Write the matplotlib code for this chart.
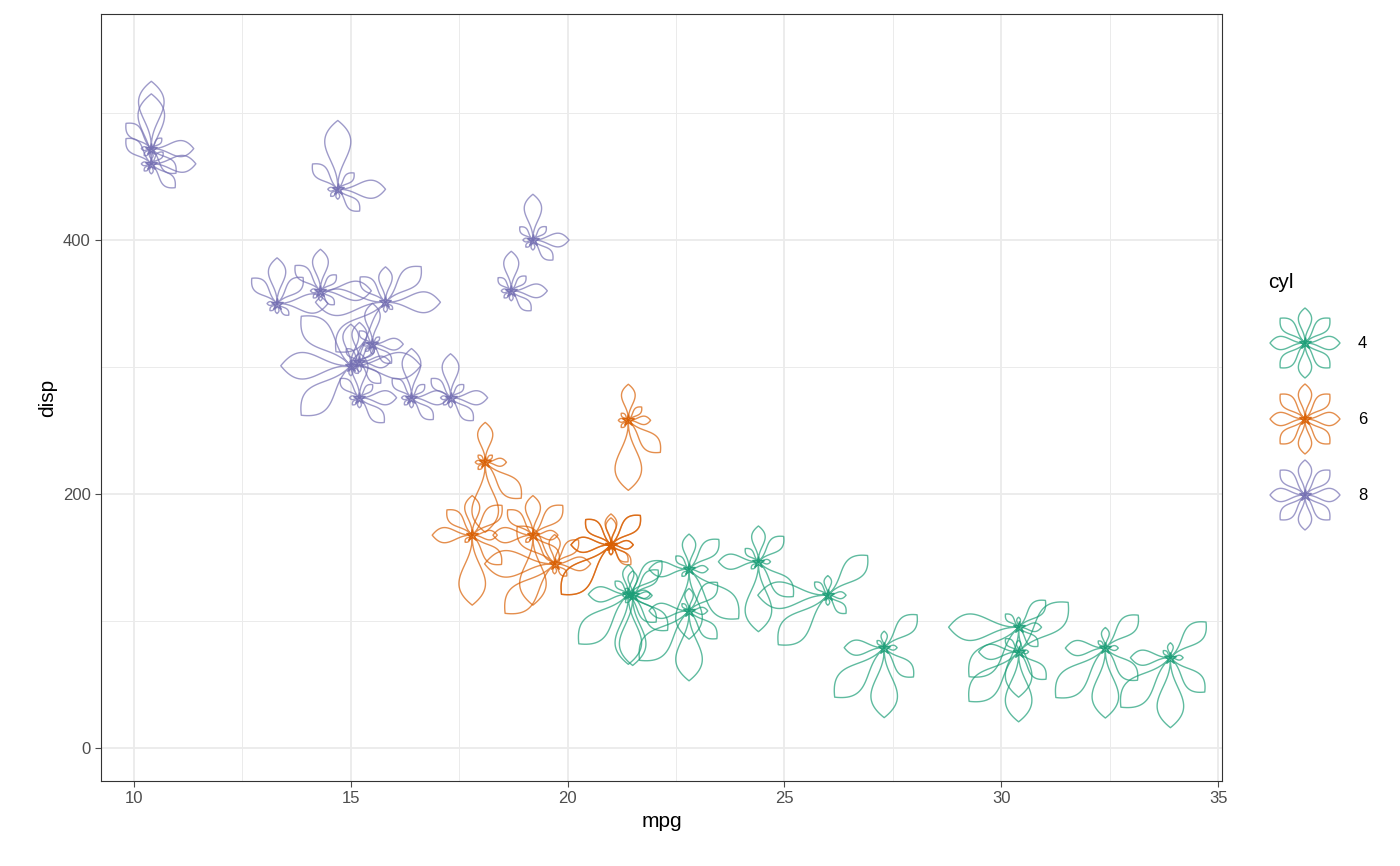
import numpy as np
import matplotlib.pyplot as plt

plt.rcParams["font.family"] = ["Liberation Sans", "DejaVu Sans"]

mpg = [21, 21, 22.8, 21.4, 18.7, 18.1, 14.3, 24.4, 22.8, 19.2, 17.8, 16.4, 17.3, 15.2, 10.4, 10.4,
       14.7, 32.4, 30.4, 33.9, 21.5, 15.5, 15.2, 13.3, 19.2, 27.3, 26, 30.4, 15.8, 19.7, 15, 21.4]
cyl = [6, 6, 4, 6, 8, 6, 8, 4, 4, 6, 6, 8, 8, 8, 8, 8, 8, 4, 4, 4, 4, 8, 8, 8, 8, 4, 4, 4, 8, 6, 8, 4]
disp = [160, 160, 108, 258, 360, 225, 360, 146.7, 140.8, 167.6, 167.6, 275.8, 275.8, 275.8, 472, 460,
        440, 78.7, 75.7, 71.1, 120.1, 318, 304, 350, 400, 79, 120.3, 95.1, 351, 145, 301, 121]
hp = [110, 110, 93, 110, 175, 105, 245, 62, 95, 123, 123, 180, 180, 180, 205, 215, 230, 66, 52, 65,
      97, 150, 150, 245, 175, 66, 91, 113, 264, 175, 335, 109]
drat = [3.9, 3.9, 3.85, 3.08, 3.15, 2.76, 3.21, 3.69, 3.92, 3.92, 3.92, 3.07, 3.07, 3.07, 2.93, 3.0,
        3.23, 4.08, 4.93, 4.22, 3.7, 2.76, 3.15, 3.73, 3.08, 4.08, 4.43, 3.77, 4.22, 3.62, 3.54, 4.11]
wt = [2.62, 2.875, 2.32, 3.215, 3.44, 3.46, 3.57, 3.19, 3.15, 3.44, 3.44, 4.07, 3.73, 3.78, 5.25, 5.424,
      5.345, 2.2, 1.615, 1.835, 2.465, 3.52, 3.435, 3.84, 3.845, 1.935, 2.14, 1.513, 3.17, 2.77, 3.57, 2.78]
qsec = [16.46, 17.02, 18.61, 19.44, 17.02, 20.22, 15.84, 20.0, 22.9, 18.3, 18.9, 17.4, 17.6, 18.0, 17.98,
        17.82, 17.42, 19.47, 18.52, 19.9, 20.01, 16.87, 17.3, 15.41, 17.05, 18.9, 16.7, 16.9, 14.5, 15.5, 14.6, 18.6]
vs = [0, 0, 1, 1, 0, 1, 0, 1, 1, 1, 1, 0, 0, 0, 0, 0, 0, 1, 1, 1, 1, 0, 0, 0, 0, 1, 0, 1, 0, 0, 0, 1]
am = [1, 1, 1, 0, 0, 0, 0, 0, 0, 0, 0, 0, 0, 0, 0, 0, 0, 1, 1, 1, 0, 0, 0, 0, 0, 1, 1, 1, 1, 1, 1, 1]
gear = [4, 4, 4, 3, 3, 3, 3, 4, 4, 4, 4, 3, 3, 3, 3, 3, 3, 4, 4, 4, 3, 3, 3, 3, 3, 4, 5, 5, 5, 5, 5, 4]
carb = [4, 4, 1, 1, 2, 1, 4, 2, 2, 4, 4, 3, 3, 3, 4, 4, 4, 1, 2, 1, 1, 2, 2, 4, 2, 1, 2, 2, 4, 6, 8, 2]

colors = {4: "#1B9E77", 6: "#D95F02", 8: "#7570B3"}

# px -> data factors
PX_X = 1 / 43.36
PX_Y = 1 / 1.27


def petal(length, angle, width=0.4):
    s = np.linspace(0, 1, 40)
    px = length * s
    py = length * width * np.sin(np.pi * s) * s ** 1.5
    pts = np.concatenate([np.c_[px, py], np.c_[px[::-1], -py[::-1]]])
    c, sn = np.cos(angle), np.sin(angle)
    return pts[:, 0] * c - pts[:, 1] * sn, pts[:, 0] * sn + pts[:, 1] * c


def flower(ax, x0, y0, lengths, color, sx, sy, lw=1.0):
    n = len(lengths)
    for k, L in enumerate(lengths):
        a = np.pi / 2 - 2 * np.pi * k / n
        dx, dy = petal(L, a)
        ax.plot(x0 + dx * sx, y0 + dy * sy, color=color, lw=lw, alpha=0.7, clip_on=False)
    ax.plot(x0, y0, marker="*", ms=9, color=color, alpha=0.9, markerfacecolor="none", mew=1)


def scale(v):
    v = np.asarray(v, float)
    return 10 + 60 * (v - v.min()) / (v.max() - v.min())


vars_ = [scale(v) for v in (wt, drat, hp, qsec, vs, am, gear, carb)]

fig = plt.figure(figsize=(14, 8.66), dpi=100)
ax = fig.add_axes([101 / 1400, 1 - 781 / 866, 1121 / 1400, 767 / 866])
for i in range(len(mpg)):
    L = [v[i] for v in vars_]
    flower(ax, mpg[i], disp[i], L, colors[cyl[i]], PX_X, PX_Y)

ax.set_xlim(9.24, 35.09)
ax.set_ylim(-26, 578)
ax.set_xticks([10, 15, 20, 25, 30, 35])
ax.set_yticks([0, 200, 400])
ax.set_xticks([12.5, 17.5, 22.5, 27.5, 32.5], minor=True)
ax.set_yticks([100, 300, 500], minor=True)
ax.grid(True, which="major", color="#EBEBEB", lw=1.3)
ax.grid(True, which="minor", color="#EBEBEB", lw=0.7)
ax.set_axisbelow(True)
ax.tick_params(which="major", colors="#4D4D4D", labelsize=12, length=4)
ax.tick_params(which="minor", length=0)
for sp in ax.spines.values():
    sp.set_color("#333333")
ax.set_xlabel("mpg", fontsize=15)
ax.set_ylabel("disp", fontsize=15)

# legend
lax = fig.add_axes([1250 / 1400, 1 - 560 / 866, 100 / 1400, 280 / 866])
lax.set_xlim(0, 100)
lax.set_ylim(0, 280)
lax.axis("off")
for j, c in enumerate([4, 6, 8]):
    yc = 280 - (343 - 280 + 76 * j)
    flower(lax, 55, yc, [35] * 8, colors[c], 1, 1, lw=1.0)
    fig.text(1358 / 1400, 1 - (343 + 76 * j) / 866, str(c), fontsize=12, va="center")
fig.text(1268 / 1400, 1 - 282 / 866, "cyl", fontsize=15, va="center")

fig.savefig("out.png")
